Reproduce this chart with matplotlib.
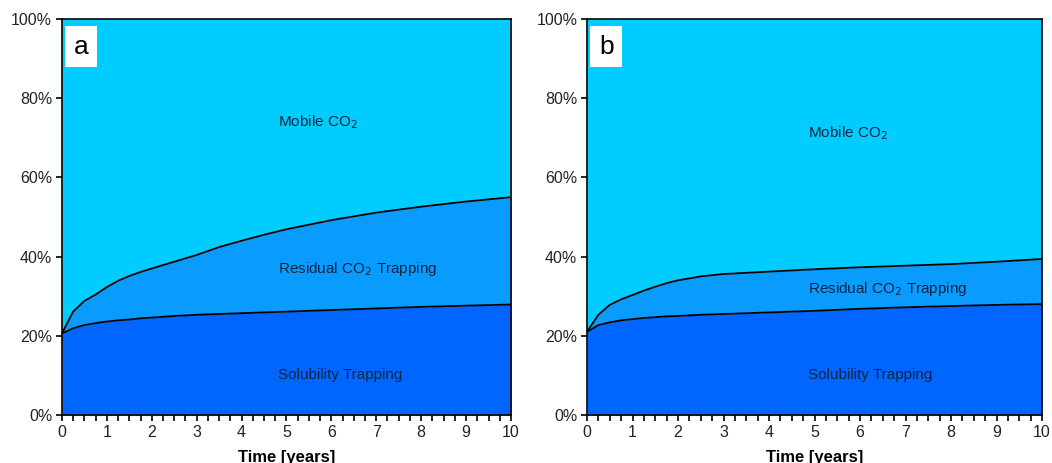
import numpy as np
import matplotlib.pyplot as plt
from matplotlib.ticker import MultipleLocator, FuncFormatter

plt.rcParams['font.family'] = ['Liberation Sans', 'DejaVu Sans']

# time in years
t = [0, 0.25, 0.5, 0.75, 1, 1.25, 1.5, 1.75, 2, 2.5, 3, 3.5, 4, 4.5, 5, 6, 7, 8, 9, 10]

# panel a: cumulative fractions (%)
sol_a = [20.6, 21.9, 22.7, 23.2, 23.6, 23.9, 24.1, 24.4, 24.6, 25.0, 25.3, 25.5, 25.7, 25.9, 26.1, 26.5, 26.9, 27.3, 27.6, 27.9]
res_a = [20.6, 26.1, 28.8, 30.4, 32.3, 33.9, 35.1, 36.1, 37.0, 38.7, 40.4, 42.4, 44.0, 45.5, 46.9, 49.2, 51.1, 52.6, 53.9, 55.0]

# panel b
sol_b = [21.0, 22.7, 23.4, 23.9, 24.2, 24.5, 24.7, 24.9, 25.0, 25.3, 25.5, 25.7, 25.9, 26.1, 26.3, 26.8, 27.2, 27.5, 27.8, 28.0]
res_b = [21.0, 25.3, 27.8, 29.2, 30.3, 31.4, 32.4, 33.3, 34.0, 35.0, 35.6, 35.9, 36.2, 36.5, 36.8, 37.3, 37.7, 38.1, 38.7, 39.4]

labels = ['Mobile CO$_2$', 'Residual CO$_2$ Trapping', 'Solubility Trapping']

c_mob = '#00CCFF'
c_res = '#0A9BFF'
c_sol = '#0066FF'
txt = '#0C2440'

fig = plt.figure(figsize=(10.52, 4.63), dpi=100)
ax_a = fig.add_axes([0.0589, 0.1037, 0.4268, 0.8553])
ax_b = fig.add_axes([0.558, 0.1037, 0.4325, 0.8553])

panels = [
    (ax_a, sol_a, res_a, 'a', [(4.81, 74.0), (4.81, 36.8), (4.81, 10.1)]),
    (ax_b, sol_b, res_b, 'b', [(4.86, 71.2), (4.86, 31.8), (4.86, 10.1)]),
]

for ax, sol, res, name, pos in panels:
    ax.fill_between(t, 0, sol, color=c_sol, lw=0)
    ax.fill_between(t, sol, res, color=c_res, lw=0)
    ax.fill_between(t, res, 100, color=c_mob, lw=0)
    ax.plot(t, sol, color='black', lw=1.3)
    ax.plot(t, res, color='black', lw=1.3)

    ax.set_xlim(0, 10)
    ax.set_ylim(0, 100)
    ax.xaxis.set_major_locator(MultipleLocator(1))
    ax.xaxis.set_minor_locator(MultipleLocator(0.25))
    ax.yaxis.set_major_locator(MultipleLocator(20))
    ax.yaxis.set_major_formatter(FuncFormatter(lambda v, p: '%d%%' % v))
    ax.tick_params(axis='both', which='major', direction='out', length=4, width=1.2,
                   labelsize=11.5, labelcolor='#222222', pad=3)
    ax.tick_params(axis='x', which='minor', direction='out', length=4, width=1.2)
    for s in ax.spines.values():
        s.set_linewidth(1.2)

    ax.set_xlabel('Time [years]', fontsize=12, fontweight='bold')
    ax.xaxis.label.set_va('baseline')
    ax.xaxis.set_label_coords(0.5, -0.118)

    for lab, (x, y) in zip(labels, pos):
        ax.text(x, y, lab, fontsize=11, color=txt, va='center', ha='left')

    ax.text(0.26, 93.0, name, fontsize=19, color='black', ha='left', va='center',
            bbox=dict(boxstyle='square,pad=0.33', fc='white', ec='none'))

fig.savefig('out.png', dpi=100)
